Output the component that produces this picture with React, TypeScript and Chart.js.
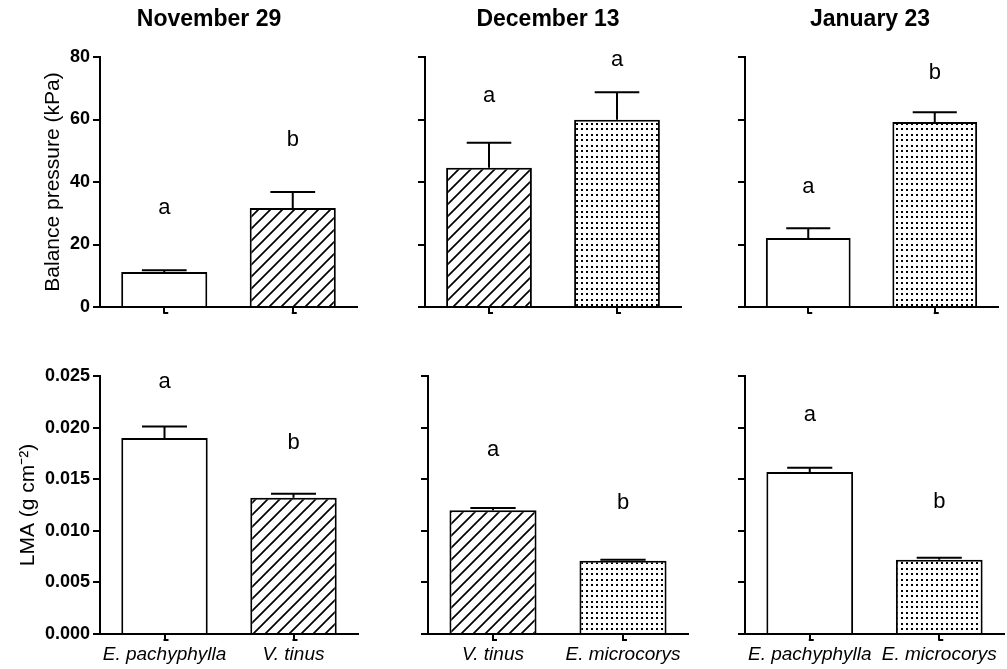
import React, { useEffect, useRef } from 'react';
import { Chart, registerables } from 'chart.js';

Chart.register(...registerables);

const FONT = "'Liberation Sans', Arial, Helvetica, sans-serif";

// ---- data ----
const dateTitles = ['November 29', 'December 13', 'January 23'];

const novSpecies = ['E. pachyphylla', 'V. tinus'];
const decSpecies = ['V. tinus', 'E. microcorys'];
const janSpecies = ['E. pachyphylla', 'E. microcorys'];

const pressureTicks = [0, 20, 40, 60, 80];
const lmaTicks = [0, 0.005, 0.01, 0.015, 0.02, 0.025];

const pressureNov = [11.2, 31.7];
const pressureNovErr = [0.6, 5.1];
const pressureDec = [44.6, 59.9];
const pressureDecErr = [8.0, 8.8];
const pressureJan = [22.1, 59.2];
const pressureJanErr = [3.1, 3.1];

const lmaNov = [0.019, 0.0132];
const lmaNovErr = [0.0011, 0.0004];
const lmaDec = [0.0120, 0.0071];
const lmaDecErr = [0.0002, 0.0001];
const lmaJan = [0.0157, 0.0072];
const lmaJanErr = [0.0004, 0.0002];

const pressureNovLetters = ['a', 'b'];
const pressureDecLetters = ['a', 'a'];
const pressureJanLetters = ['a', 'b'];
const lmaNovLetters = ['a', 'b'];
const lmaDecLetters = ['a', 'b'];
const lmaJanLetters = ['a', 'b'];

// letter heights in data units
const pressureNovLetterAt = [31.7, 53.5];
const pressureDecLetterAt = [67.6, 79.2];
const pressureJanLetterAt = [38.5, 75];
const lmaNovLetterAt = [0.0244, 0.0185];
const lmaDecLetterAt = [0.0178, 0.0127];
const lmaJanLetterAt = [0.0212, 0.0128];

// ---- patterns ----
function makeHatch(): CanvasPattern | string {
  const s = 12;
  const c = document.createElement('canvas');
  c.width = s;
  c.height = s;
  const g = c.getContext('2d');
  if (!g) return '#fff';
  g.fillStyle = '#fff';
  g.fillRect(0, 0, s, s);
  g.strokeStyle = '#000';
  g.lineWidth = 1.7;
  g.beginPath();
  g.moveTo(-2, s + 2);
  g.lineTo(s + 2, -2);
  g.moveTo(-2, 2);
  g.lineTo(2, -2);
  g.moveTo(s - 2, s + 2);
  g.lineTo(s + 2, s - 2);
  g.stroke();
  return g.createPattern(c, 'repeat') || '#fff';
}

function makeDots(): CanvasPattern | string {
  const w = 5;
  const h = 11;
  const c = document.createElement('canvas');
  c.width = w;
  c.height = h;
  const g = c.getContext('2d');
  if (!g) return '#fff';
  g.fillStyle = '#fff';
  g.fillRect(0, 0, w, h);
  g.fillStyle = '#000';
  g.fillRect(1, 2, 2, 2);
  g.fillRect(1, 7, 2, 2);
  return g.createPattern(c, 'repeat') || '#fff';
}

type PanelSpec = {
  left: number;
  top: number;
  width: number;
  height: number;
  area: { l: number; t: number; r: number; b: number };
  categories: string[];
  values: number[];
  errors: number[];
  letters: string[];
  letterAt: number[];
  ticks: number[];
  decimals: number;
  showYLabels: boolean;
  showXLabels: boolean;
  yTitle?: string;
  yTitleCenter?: number;
  title?: string;
  titleX?: number;
};

const panels: PanelSpec[] = [
  {
    left: 0, top: 0, width: 364, height: 335,
    area: { l: 100, t: 57, r: 357, b: 307 },
    categories: novSpecies, values: pressureNov, errors: pressureNovErr,
    letters: pressureNovLetters, letterAt: pressureNovLetterAt,
    ticks: pressureTicks, decimals: 0, showYLabels: true, showXLabels: false,
    yTitle: 'Balance pressure (kPa)', yTitleCenter: 53,
    title: dateTitles[0], titleX: 209,
  },
  {
    left: 400, top: 0, width: 290, height: 335,
    area: { l: 425, t: 57, r: 681, b: 307 },
    categories: decSpecies, values: pressureDec, errors: pressureDecErr,
    letters: pressureDecLetters, letterAt: pressureDecLetterAt,
    ticks: pressureTicks, decimals: 0, showYLabels: false, showXLabels: false,
    title: dateTitles[1], titleX: 548,
  },
  {
    left: 720, top: 0, width: 287, height: 335,
    area: { l: 745, t: 57, r: 998, b: 307 },
    categories: janSpecies, values: pressureJan, errors: pressureJanErr,
    letters: pressureJanLetters, letterAt: pressureJanLetterAt,
    ticks: pressureTicks, decimals: 0, showYLabels: false, showXLabels: false,
    title: dateTitles[2], titleX: 870,
  },
  {
    left: 0, top: 335, width: 366, height: 334,
    area: { l: 100, t: 376, r: 358, b: 634 },
    categories: novSpecies, values: lmaNov, errors: lmaNovErr,
    letters: lmaNovLetters, letterAt: lmaNovLetterAt,
    ticks: lmaTicks, decimals: 3, showYLabels: true, showXLabels: true,
    yTitle: 'LMA (g cm\u207B\u00B2)', yTitleCenter: 28,
  },
  {
    left: 400, top: 335, width: 300, height: 334,
    area: { l: 428, t: 376, r: 688, b: 634 },
    categories: decSpecies, values: lmaDec, errors: lmaDecErr,
    letters: lmaDecLetters, letterAt: lmaDecLetterAt,
    ticks: lmaTicks, decimals: 3, showYLabels: false, showXLabels: true,
  },
  {
    left: 720, top: 335, width: 287, height: 334,
    area: { l: 745, t: 376, r: 1004, b: 634 },
    categories: janSpecies, values: lmaJan, errors: lmaJanErr,
    letters: lmaJanLetters, letterAt: lmaJanLetterAt,
    ticks: lmaTicks, decimals: 3, showYLabels: false, showXLabels: true,
  },
];

function fillFor(species: string, hatch: any, dots: any) {
  if (species === 'V. tinus') return hatch;
  if (species === 'E. microcorys') return dots;
  return '#ffffff';
}

function Panel({ spec }: { spec: PanelSpec }) {
  const ref = useRef<HTMLCanvasElement | null>(null);

  useEffect(() => {
    const canvas = ref.current;
    if (!canvas) return;
    const hatch = makeHatch();
    const dots = makeDots();
    const yW = spec.area.l - spec.left;
    const padR = spec.left + spec.width - spec.area.r;
    const padTop = spec.area.t - spec.top;
    const xH = spec.top + spec.height - spec.area.b;
    const tickX = 6;
    const yMin = spec.ticks[0];
    const yMax = spec.ticks[spec.ticks.length - 1];
    const step = spec.ticks[1] - spec.ticks[0];
    const titleSize = 21;

    const decor = {
      id: 'decor',
      afterDatasetsDraw(chart: any) {
        const ctx = chart.ctx as CanvasRenderingContext2D;
        const meta = chart.getDatasetMeta(0);
        const y = chart.scales.y;
        const area = chart.chartArea;
        ctx.save();
        ctx.strokeStyle = '#000';
        ctx.fillStyle = '#000';
        ctx.lineWidth = 2;
        ctx.lineCap = 'butt';
        meta.data.forEach((bar: any, i: number) => {
          const p = bar.getProps(['x', 'width'], true);
          const top = y.getPixelForValue(spec.values[i]);
          const cap = y.getPixelForValue(spec.values[i] + spec.errors[i]);
          ctx.beginPath();
          ctx.moveTo(p.x, top);
          ctx.lineTo(p.x, cap);
          ctx.moveTo(p.x - p.width * 0.26, cap);
          ctx.lineTo(p.x + p.width * 0.26, cap);
          ctx.stroke();
          // small foot on x tick
          ctx.beginPath();
          ctx.moveTo(p.x - 1, area.bottom + tickX);
          ctx.lineTo(p.x + 4, area.bottom + tickX);
          ctx.stroke();
          ctx.font = `22px ${FONT}`;
          ctx.textAlign = 'center';
          ctx.textBaseline = 'middle';
          ctx.fillText(spec.letters[i], p.x, y.getPixelForValue(spec.letterAt[i]));
        });
        if (spec.title) {
          ctx.font = `bold 23px ${FONT}`;
          ctx.textAlign = 'center';
          ctx.textBaseline = 'alphabetic';
          ctx.fillText(spec.title, (spec.titleX || 0) - spec.left, 26 - spec.top);
        }
        ctx.restore();
      },
    };

    const chart = new Chart(canvas, {
      type: 'bar',
      data: {
        labels: spec.categories,
        datasets: [
          {
            data: spec.values,
            backgroundColor: spec.categories.map((c) => fillFor(c, hatch, dots)),
            borderColor: '#000',
            borderWidth: 2,
            borderSkipped: 'start',
            barPercentage: 0.67,
            categoryPercentage: 1,
          } as any,
        ],
      },
      options: {
        responsive: false,
        animation: false,
        layout: { padding: { top: padTop, right: padR, left: 0, bottom: 0 } },
        plugins: {
          legend: { display: false },
          tooltip: { enabled: false },
          title: { display: false },
        },
        scales: {
          x: {
            type: 'category',
            offset: true,
            grid: {
              display: true,
              drawOnChartArea: false,
              drawTicks: true,
              tickLength: tickX,
              offset: false,
              color: '#000',
              lineWidth: 2,
            },
            border: { display: true, color: '#000', width: 2 },
            ticks: {
              color: '#000',
              font: { family: FONT, size: 19, style: 'italic' },
              padding: 3,
              maxRotation: 0,
              autoSkip: false,
              callback: (_v: any, i: number) => (spec.showXLabels ? spec.categories[i] : ''),
            },
            afterFit: (s: any) => {
              s.height = xH;
            },
          },
          y: {
            min: yMin,
            max: yMax,
            grid: {
              display: true,
              drawOnChartArea: false,
              drawTicks: true,
              tickLength: 7,
              color: '#000',
              lineWidth: 2,
            },
            border: { display: true, color: '#000', width: 2 },
            ticks: {
              stepSize: step,
              color: '#000',
              padding: 3,
              font: { family: FONT, size: 18, weight: 'bold' },
              callback: (v: any) => (spec.showYLabels ? Number(v).toFixed(spec.decimals) : ''),
            },
            title: spec.yTitle
              ? {
                  display: true,
                  text: spec.yTitle,
                  color: '#000',
                  font: { family: FONT, size: titleSize, lineHeight: 1.2 },
                  padding: { top: (spec.yTitleCenter || 0) - spec.left - titleSize * 0.6, bottom: 0 },
                }
              : { display: false },
            afterFit: (s: any) => {
              s.width = yW;
            },
          },
        },
      } as any,
      plugins: [decor],
    });
    return () => chart.destroy();
  }, [spec]);

  return (
    <canvas
      ref={ref}
      width={spec.width}
      height={spec.height}
      style={{ position: 'absolute', left: spec.left, top: spec.top, width: spec.width, height: spec.height }}
    />
  );
}

export default function App() {
  return (
    <div style={{ position: 'absolute', left: 0, top: 0, width: 1007, height: 669, background: '#fff', overflow: 'hidden' }}>
      {panels.map((p, i) => (
        <Panel key={i} spec={p} />
      ))}
    </div>
  );
}
